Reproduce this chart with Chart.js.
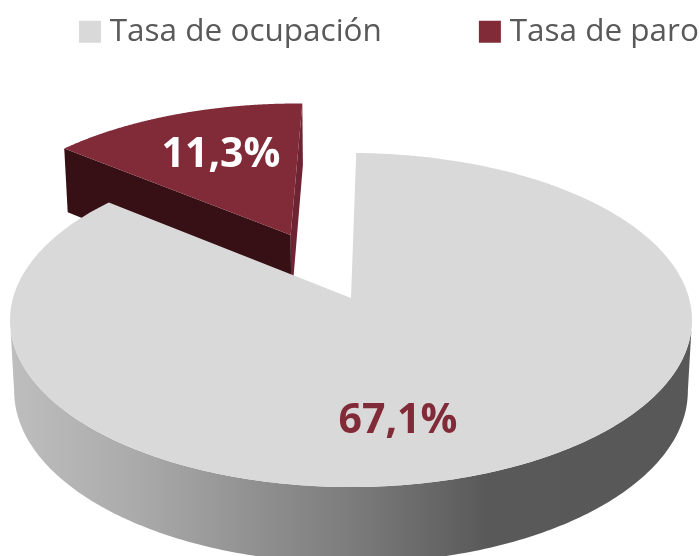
<!DOCTYPE html>
<html><head><meta charset="utf-8">
<style>html,body{margin:0;padding:0;background:#fff}canvas{display:block}</style>
<script src="https://cdn.jsdelivr.net/npm/chart.js@4"></script></head>
<body><canvas id="c" width="699" height="556"></canvas>
<script>
const categories = ["Tasa de ocupación", "Tasa de paro"];
const values = [67.1, 11.3];
const topColors = ["#D9D9D9", "#812B38"];
const offsets = [0, 92];

// Projection of the flat pie plane (perspective view)
const CX = 351, R = 338, A = 124.85, B = 298, C = -0.1317;
const proj = (u, v) => { const d = 1 + C * v; return [CX + R * u / d, (A * v + B) / d]; };
const low = (p, v) => [CX + (p[0] - CX) * 0.988, p[1] + 70 + 6 * v];
const trace = (ctx, pts) => { ctx.beginPath(); pts.forEach((p, i) => i ? ctx.lineTo(p[0], p[1]) : ctx.moveTo(p[0], p[1])); ctx.closePath(); };

function sliceGeo(el, offset) {
  const r = el.outerRadius, o = offset / r, mid = (el.startAngle + el.endAngle) / 2;
  const ox = o * Math.cos(mid), oy = o * Math.sin(mid);
  const at = a => [ox + Math.cos(a), oy + Math.sin(a)];
  return { ox, oy, at, start: el.startAngle, end: el.endAngle };
}
function drawTop(ctx, g, color) {
  const pts = [proj(g.ox, g.oy)];
  for (let i = 0; i <= 300; i++) {
    const q = g.at(g.start + (g.end - g.start) * i / 300);
    pts.push(proj(q[0], q[1]));
  }
  trace(ctx, pts); ctx.fillStyle = color; ctx.fill();
}
function radialWall(ctx, g, a, color) {
  const q = g.at(a);
  const p1 = proj(g.ox, g.oy), p2 = proj(q[0], q[1]);
  trace(ctx, [p1, p2, low(p2, q[1]), low(p1, g.oy)]);
  ctx.fillStyle = color; ctx.fill();
}
function outerWall(ctx, g) {
  const up = [], dn = [];
  const a0 = Math.asin(-C), a1 = Math.PI - a0;
  for (let i = 0; i <= 200; i++) {
    const a = a0 + (a1 - a0) * i / 200, q = g.at(a);
    const p = proj(q[0], q[1]); up.push(p); dn.unshift(low(p, q[1]));
  }
  trace(ctx, up.concat(dn));
  const gr = ctx.createLinearGradient(10, 0, 692, 0);
  gr.addColorStop(0, "#BEBEBE"); gr.addColorStop(0.18, "#ABABAB");
  gr.addColorStop(0.5, "#7C7C7C"); gr.addColorStop(0.7, "#595959"); gr.addColorStop(1, "#585858");
  ctx.fillStyle = gr; ctx.fill();
}

const pie3d = {
  id: "pie3d",
  afterLayout(chart) {
    const lg = chart.legend; if (!lg) return;
    const o = lg.options, gap = 104;
    lg.options = Object.create(o, { labels: { value: Object.create(o.labels, { padding: { value: gap } }) } });
    lg.left = 86 - gap; lg.top = 16 - gap; lg.right = 3000;
  },
  beforeDatasetDraw(chart, args) {
    const ctx = chart.ctx, els = chart.getDatasetMeta(args.index).data;
    if (els.length < 2) return false;
    ctx.save();
    const g0 = sliceGeo(els[0], offsets[0]), g1 = sliceGeo(els[1], offsets[1]);
    radialWall(ctx, g1, els[1].endAngle, "#6E2432");
    radialWall(ctx, g1, els[1].startAngle, "#361014");
    drawTop(ctx, g1, topColors[1]);
    outerWall(ctx, g0);
    drawTop(ctx, g0, topColors[0]);
    ctx.restore();
    return false;
  },
  afterDatasetsDraw(chart) {
    const ctx = chart.ctx;
    ctx.save();
    ctx.font = "bold 41px 'Open Sans'";
    ctx.textAlign = "center"; ctx.textBaseline = "middle";
    const fmt = v => v.toFixed(1).replace(".", ",") + "%";
    ctx.fillStyle = "#812B38"; ctx.fillText(fmt(values[0]), 398, 421);
    ctx.fillStyle = "#FFFFFF"; ctx.fillText(fmt(values[1]), 221, 155);
    ctx.restore();
  }
};

new Chart(document.getElementById("c"), {
  type: "pie",
  data: { labels: categories, datasets: [{ data: values, backgroundColor: topColors, borderColor: topColors, borderWidth: 0, offset: offsets }] },
  options: {
    responsive: false, animation: false, rotation: 1,
    layout: { padding: 0 },
    plugins: {
      tooltip: { enabled: false },
      legend: {
        position: "top", align: "start",
        labels: {
          color: "#595959", font: { family: "'Open Sans'", size: 31.5 }, padding: 10,
          boxWidth: 8, boxHeight: 8,
          generateLabels(chart) {
            return categories.map((t, i) => ({ text: t, fillStyle: topColors[i], strokeStyle: topColors[i], lineWidth: 14, fontColor: "#595959", hidden: false, index: i }));
          }
        }
      }
    }
  },
  plugins: [pie3d]
});
</script></body></html>
